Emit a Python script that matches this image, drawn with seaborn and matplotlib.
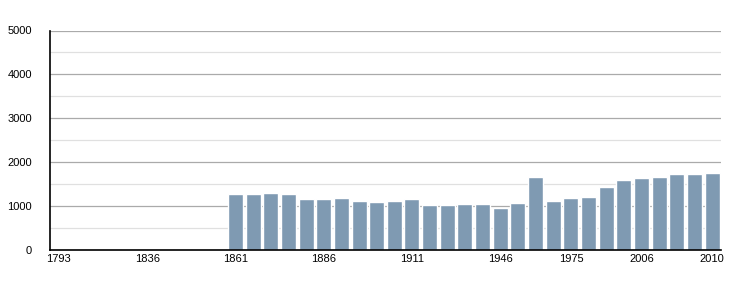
import matplotlib
matplotlib.use("Agg")
import matplotlib.pyplot as plt
import seaborn as sns
import pandas as pd
import numpy as np
from matplotlib.ticker import MultipleLocator

years = ["1793", "1800", "1806", "1821", "1831", "1836", "1841", "1846", "1851", "1856",
         "1861", "1866", "1872", "1876", "1881", "1886", "1891", "1896", "1901", "1906",
         "1911", "1921", "1926", "1931", "1936", "1946", "1954", "1962", "1968", "1975",
         "1982", "1990", "1999", "2006", "2007", "2008", "2009", "2010"]
population = [0, 0, 0, 0, 0, 0, 0, 0, 0, 0,
              1283, 1283, 1306, 1283, 1169, 1169, 1192, 1124, 1101, 1124,
              1169, 1033, 1033, 1055, 1055, 965, 1078, 1670, 1124, 1192,
              1215, 1443, 1602, 1647, 1670, 1739, 1739, 1761]
shown_labels = ["1793", "1836", "1861", "1886", "1911", "1946", "1975", "2006", "2010"]

df = pd.DataFrame({"year": years, "pop": population})

sns.set_style("white")
plt.rcParams['font.family'] = ['Liberation Sans', 'DejaVu Sans']

fig = plt.figure(figsize=(7.5, 3), dpi=100)
ax = fig.add_axes([50/750, 50/300, 671/750, 219.5/300])

sns.barplot(data=df, x="year", y="pop", color="#7f9ab2", saturation=1,
            width=0.85, ax=ax, zorder=3)

ax.set_xlim(-0.5, len(years) - 0.5)
ax.set_ylim(0, 5000)
ax.yaxis.set_major_locator(MultipleLocator(1000))
ax.yaxis.set_minor_locator(MultipleLocator(500))
ax.grid(axis="y", which="major", color="#aaaaaa", linewidth=0.9, zorder=0)
ax.grid(axis="y", which="minor", color="#e0e0e0", linewidth=0.9, zorder=0)
ax.grid(axis="x", visible=False)

ax.tick_params(axis="y", which="major", length=5, color="#aaaaaa", width=0.9,
               labelsize=8, pad=8, labelcolor="#000000")
ax.tick_params(axis="y", which="minor", length=5, color="#e0e0e0", width=0.9)
fig.canvas.draw()
ax.yaxis.get_major_ticks()[0].tick1line.set_color("#000000")
ax.set_xticks([years.index(y) for y in shown_labels])
ax.set_xticklabels(shown_labels)
ax.tick_params(axis="x", length=0, labelsize=8, pad=3, labelcolor="#000000")

for side in ["top", "right"]:
    ax.spines[side].set_visible(False)
for side in ["left", "bottom"]:
    ax.spines[side].set_color("#000000")
    ax.spines[side].set_linewidth(1.2)
    ax.spines[side].set_zorder(4)

ax.set_xlabel("")
ax.set_ylabel("")

fig.savefig("out.png", dpi=100)
